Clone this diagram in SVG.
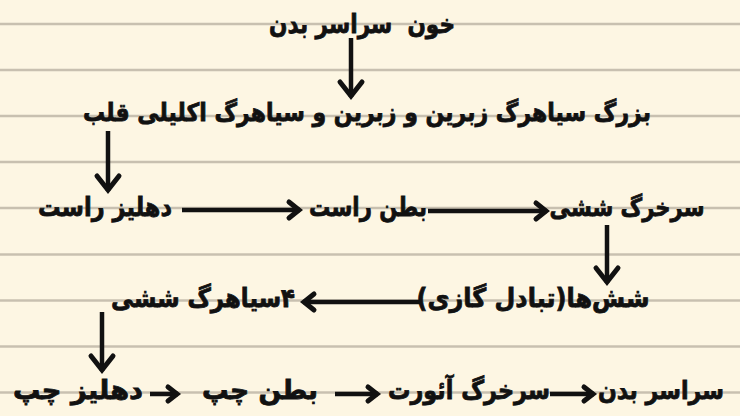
<svg xmlns="http://www.w3.org/2000/svg" width="740" height="416" viewBox="0 0 740 416">
<style>
.t{font-family:"DejaVu Sans",sans-serif;font-weight:bold;font-size:26px;fill:#111;stroke:#111;stroke-width:0.8;direction:rtl;text-anchor:middle;white-space:pre}
.s{font-size:25px}
.rule{stroke:#c8c0b0;stroke-width:2.5}
.c{stroke:#111;stroke-width:4.5;fill:none}
</style>
<defs>
<marker id="hv" markerUnits="userSpaceOnUse" markerWidth="40" markerHeight="40" viewBox="-20 -20 40 40" refX="0" refY="0" orient="auto" overflow="visible">
<path d="M-15,-11 L-1,0 L-15,11" fill="none" stroke="#111" stroke-width="5" stroke-linejoin="miter" stroke-linecap="round"/>
</marker>
<marker id="hh" markerUnits="userSpaceOnUse" markerWidth="40" markerHeight="40" viewBox="-20 -20 40 40" refX="0" refY="0" orient="auto" overflow="visible">
<path d="M-11,-8 L-1,0 L-11,8" fill="none" stroke="#111" stroke-width="5" stroke-linejoin="miter" stroke-linecap="round"/>
</marker>
<marker id="hs" markerUnits="userSpaceOnUse" markerWidth="40" markerHeight="40" viewBox="-20 -20 40 40" refX="0" refY="0" orient="auto" overflow="visible">
<path d="M-10,-7 L-1,0 L-10,7" fill="none" stroke="#111" stroke-width="5" stroke-linejoin="miter" stroke-linecap="round"/>
</marker>
</defs>
<rect width="740" height="416" fill="#fdf6e3"/>
<g id="paper">
<line class="rule" x1="0" y1="24" x2="740" y2="24"/>
<line class="rule" x1="0" y1="70" x2="740" y2="70"/>
<line class="rule" x1="0" y1="116" x2="740" y2="116"/>
<line class="rule" x1="0" y1="162" x2="740" y2="162"/>
<line class="rule" x1="0" y1="208" x2="740" y2="208"/>
<line class="rule" x1="0" y1="254.5" x2="740" y2="254.5"/>
<line class="rule" x1="0" y1="300.5" x2="740" y2="300.5"/>
<line class="rule" x1="0" y1="346.5" x2="740" y2="346.5"/>
<line class="rule" x1="0" y1="392.5" x2="740" y2="392.5"/>
</g>
<g id="connectors">
<line class="c" x1="351" y1="38" x2="351" y2="97" marker-end="url(#hv)"/>
<line class="c" x1="108" y1="131" x2="108" y2="191" marker-end="url(#hv)"/>
<line class="c" x1="607" y1="225" x2="607" y2="283" marker-end="url(#hv)"/>
<line class="c" x1="102" y1="312" x2="102" y2="371" marker-end="url(#hv)"/>
<line class="c" x1="182" y1="210" x2="300" y2="210" marker-end="url(#hh)"/>
<line class="c" x1="428" y1="211" x2="547" y2="211" marker-end="url(#hh)"/>
<line class="c" x1="420" y1="302" x2="303" y2="302" marker-end="url(#hh)"/>
<line class="c" x1="150" y1="394" x2="178" y2="394" marker-end="url(#hs)"/>
<line class="c" x1="335" y1="394" x2="378" y2="394" marker-end="url(#hs)"/>
<line class="c" x1="550" y1="394" x2="594" y2="394" marker-end="url(#hs)"/>
</g>
<g id="n1"><text class="t" x="362" y="33" textLength="186" lengthAdjust="spacingAndGlyphs">خون  سراسر بدن</text></g>
<g id="n2"><text class="t s" x="367" y="121" textLength="568" lengthAdjust="spacingAndGlyphs">بزرگ سیاهرگ زبرین و زبرین و سیاهرگ اکلیلی قلب</text></g>
<g id="n3"><text class="t" x="105" y="216" textLength="134" lengthAdjust="spacingAndGlyphs">دهلیز راست</text></g>
<g id="n4"><text class="t" x="368" y="216" textLength="118" lengthAdjust="spacingAndGlyphs">بطن راست</text></g>
<g id="n5"><text class="t s" x="627" y="216" textLength="155" lengthAdjust="spacingAndGlyphs">سرخرگ ششی</text></g>
<g id="n6"><text class="t" x="533" y="307" textLength="233" lengthAdjust="spacingAndGlyphs">شش‌ها(تبادل گازی)</text></g>
<g id="n7"><text class="t" x="203" y="307" textLength="184" lengthAdjust="spacingAndGlyphs">۴سیاهرگ ششی</text></g>
<g id="n8"><text class="t" x="78" y="399" textLength="130" lengthAdjust="spacingAndGlyphs">دهلیز چپ</text></g>
<g id="n9"><text class="t" x="260" y="399" textLength="116" lengthAdjust="spacingAndGlyphs">بطن چپ</text></g>
<g id="n10"><text class="t" x="469" y="399" textLength="162" lengthAdjust="spacingAndGlyphs">سرخرگ آئورت</text></g>
<g id="n11"><text class="t s" x="661" y="399" textLength="126" lengthAdjust="spacingAndGlyphs">سراسر بدن</text></g>
</svg>
